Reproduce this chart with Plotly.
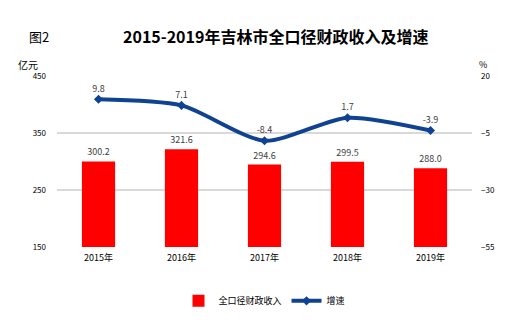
import plotly.graph_objects as go

years = ["2015年", "2016年", "2017年", "2018年", "2019年"]
revenue = [300.2, 321.6, 294.6, 299.5, 288.0]
growth = [9.8, 7.1, -8.4, 1.7, -3.9]
left_ticks = [150, 250, 350, 450]
right_ticks = [-55, -30, -5, 20]

FONT = "Noto Sans CJK SC"

fig = go.Figure()
fig.add_trace(go.Bar(
    x=years, y=revenue, name="全口径财政收入",
    marker=dict(color="#FF0000", line=dict(width=0)),
    width=0.4,
    text=[f"{v:.1f}" for v in revenue], textposition="outside",
    textfont=dict(size=9, color="#404040", family=FONT),
    cliponaxis=False, yaxis="y",
))
fig.add_trace(go.Scatter(
    x=years, y=growth, name="增速", mode="lines+markers+text",
    line=dict(color="#0F4391", width=4, shape="spline", smoothing=0.7),
    marker=dict(color="#0F4391", size=7, symbol="diamond"),
    text=[f"{v:.1f}" for v in growth], textposition="top center",
    textfont=dict(size=9, color="#404040", family=FONT),
    cliponaxis=False, yaxis="y2",
))

fig.update_layout(
    width=519, height=327,
    margin=dict(l=57, r=47, t=76, b=65),
    paper_bgcolor="white", plot_bgcolor="white",
    font=dict(family=FONT, color="#000000"),
    showlegend=True,
    legend=dict(orientation="h", x=0.5, xanchor="center", y=-0.23, yanchor="top",
                font=dict(size=9, family=FONT), traceorder="normal"),
    xaxis=dict(showgrid=False, showline=False, ticks="", ticklabelstandoff=4,
               tickfont=dict(size=9, family=FONT)),
    yaxis=dict(range=[150, 450], tickvals=left_ticks, showgrid=True,
               gridcolor="#D9D9D9", gridwidth=1.5, zeroline=False, ticklabelstandoff=10,
               tickfont=dict(size=8, family=FONT), ticks="", showline=False),
    yaxis2=dict(range=[-55, 20], tickvals=right_ticks, overlaying="y", side="right",
                showgrid=False, zeroline=False, tickfont=dict(size=8, family=FONT),
                ticklabelstandoff=8, ticks="", showline=False),
)
H = 327 - 76 - 65
W = 519 - 57 - 47
def px(x): return (x - 57) / W
def py(y): return (327 - 65 - y) / H
fig.add_annotation(text="<b>2015-2019年吉林市全口径财政收入及增速</b>", x=px(275), y=py(33),
                   xref="paper", yref="paper", showarrow=False, xanchor="center", yanchor="middle",
                   font=dict(size=16, family=FONT))
fig.add_annotation(text="图2", x=px(27), y=py(33), xref="paper", yref="paper", showarrow=False,
                   xanchor="left", yanchor="middle", font=dict(size=13, family=FONT))
fig.add_annotation(text="亿元", x=px(16), y=py(63), xref="paper", yref="paper", showarrow=False,
                   xanchor="left", yanchor="middle", font=dict(size=10, family=FONT))
fig.add_annotation(text="%", x=px(477), y=py(63), xref="paper", yref="paper", showarrow=False,
                   xanchor="left", yanchor="middle", font=dict(size=9, family=FONT))

fig.write_html("out.html")
